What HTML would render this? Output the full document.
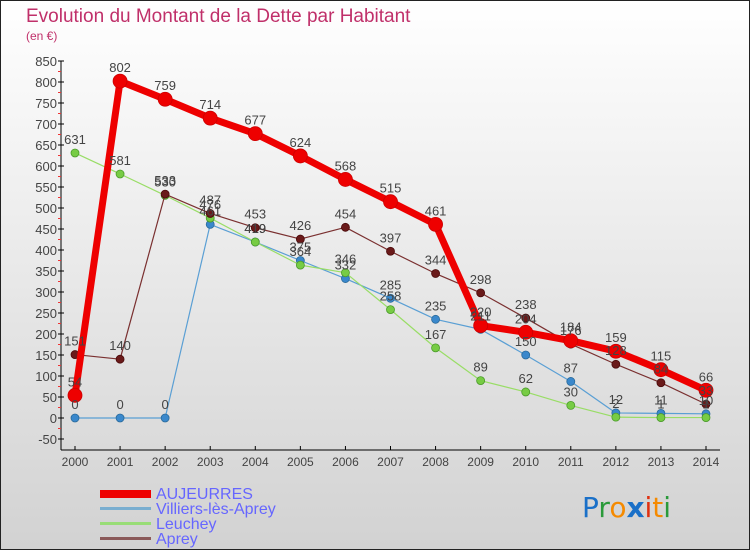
<!DOCTYPE html>
<html><head><meta charset="utf-8"><style>
body{margin:0;width:750px;height:550px;overflow:hidden}
svg{display:block;font-family:"Liberation Sans",sans-serif}
</style></head><body>
<svg id="c" width="750" height="550" viewBox="0 0 750 550">
<defs><linearGradient id="bg" x1="0" y1="0" x2="0" y2="1"><stop offset="0" stop-color="#ffffff"/><stop offset="1" stop-color="#d2d2d2"/></linearGradient></defs>
<rect x="0.5" y="0.5" width="749" height="549" fill="url(#bg)" stroke="#222"/>
<text x="26" y="22" font-size="19" fill="#c0306a">Evolution du Montant de la Dette par Habitant</text>
<text x="26" y="40" font-size="12" fill="#c0306a">(en €)</text>
<g id="axes"></g><g id="series"></g><g id="labels"></g>
<g font-size="16" fill="#6666ff">
<rect x="100" y="490" width="51" height="8" fill="#e00"/>
<text x="156" y="499">AUJEURRES</text>
<rect x="100" y="507" width="51" height="3" fill="#7aaed0"/>
<text x="156" y="514">Villiers-lès-Aprey</text>
<rect x="100" y="522" width="51" height="3" fill="#99dd77"/>
<text x="156" y="529">Leuchey</text>
<rect x="100" y="537" width="51" height="3" fill="#8b5a5a"/>
<text x="156" y="544">Aprey</text>
</g>
<g font-size="28" font-family="'DejaVu Sans',sans-serif">
<text x="582" y="517"><tspan fill="#1a70c8">P</tspan><tspan fill="#2a9a3a">r</tspan><tspan fill="#f58a00">o</tspan><tspan fill="#1a70c8" font-weight="bold">x</tspan><tspan fill="#e03010">i</tspan><tspan fill="#f58a00">t</tspan><tspan fill="#2a9a3a">i</tspan></text>
</g>
</svg>
<script>
const years=[2000,2001,2002,2003,2004,2005,2006,2007,2008,2009,2010,2011,2012,2013,2014];
const aujeurres=[54,802,759,714,677,624,568,515,461,220,204,184,159,115,66];
const villiers=[0,0,0,461,419,375,332,285,235,211,150,87,12,11,10];
const leuchey=[631,581,530,476,419,364,346,258,167,89,62,30,2,1,1];
const aprey=[151,140,533,487,453,426,454,397,344,298,238,176,128,84,33];
const yTicks=[-50,0,50,100,150,200,250,300,350,400,450,500,550,600,650,700,750,800,850];
const NS="http://www.w3.org/2000/svg";
function X(i){return 75+i*(706-75)/(years.length-1);}
function Y(v){return 418-v*0.42;}
function mk(t,a,p){const e=document.createElementNS(NS,t);for(const k in a)e.setAttribute(k,a[k]);p.appendChild(e);return e;}
const ax=document.getElementById('axes');
const yl=mk('line',{x1:61,y1:Y(850),x2:61,y2:450,stroke:'#000'},ax);


const xl=mk('line',{x1:61,y1:450,x2:720,y2:450,stroke:'#000'},ax);


yTicks.forEach(v=>{
 mk('line',{x1:58,y1:Y(v),x2:64,y2:Y(v),stroke:'#000'},ax);
 if(v<850) mk('line',{x1:58,y1:Y(v+25),x2:61,y2:Y(v+25),stroke:'#e33'},ax);
 const t=mk('text',{x:57,y:Y(v)+5,'font-size':13,fill:'#444','text-anchor':'end'},ax);
 t.textContent=v;
 
 
});
years.forEach((y,i)=>{
 mk('line',{x1:X(i),y1:446,x2:X(i),y2:450,stroke:'#000'},ax);
 const t=mk('text',{x:X(i),y:466,'font-size':12,fill:'#444','text-anchor':'middle'},ax);
 t.textContent=y;
 
 
});
const sg=document.getElementById('series'),lg=document.getElementById('labels');
function series(data,name,col,dot,w,r,rs){
 const g=mk('g',{},sg);
 
 
 mk('polyline',{points:data.map((v,i)=>X(i)+','+Y(v)).join(' '),fill:'none',stroke:col,'stroke-width':w,'stroke-linejoin':'round'},g);
 data.forEach((v,i)=>{
  const c=mk('circle',{cx:X(i),cy:Y(v),r:r,fill:dot,stroke:rs,'stroke-width':0.8},g);
  
  
  const t=mk('text',{x:X(i),y:Y(v)-9,'font-size':13,fill:'#444','text-anchor':'middle'},lg);
  t.textContent=v;
  
  
 });
}
series(villiers,'villiers','#5a9fd4','#3a88cc',1.2,4,'#2a6a9a');
series(leuchey,'leuchey','#99dd66','#77cc44',1.2,4,'#4a9a2a');
series(aprey,'aprey','#7a3030','#6a1a1a',1.2,4,'#4a0a0a');
series(aujeurres,'aujeurres','#ee0000','#ee0000',7,7,'#cc0000');
</script>
</body></html>
